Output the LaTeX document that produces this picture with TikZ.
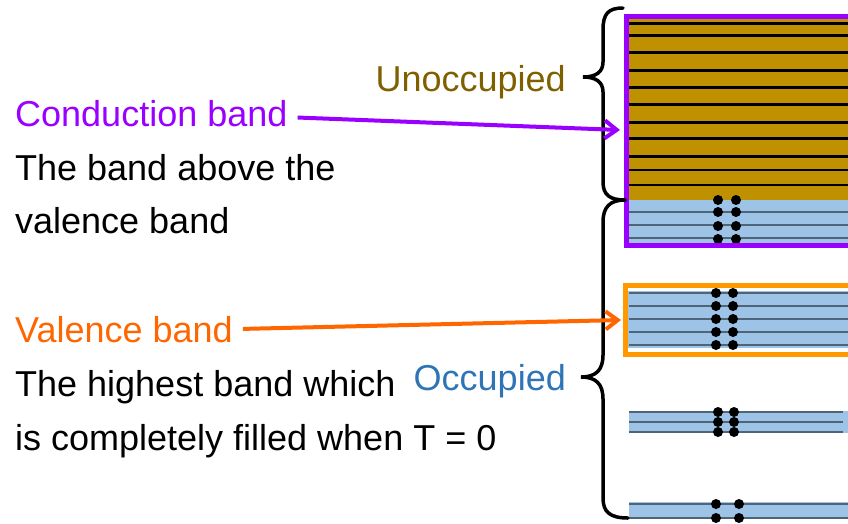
\documentclass[tikz,border=0pt]{standalone}
\usepackage{fontspec}
\setmainfont{Liberation Sans}
\usetikzlibrary{arrows.meta}

\definecolor{cbpurple}{RGB}{153,0,255}
\definecolor{vbframe}{RGB}{255,153,0}
\definecolor{vbtext}{RGB}{255,102,0}
\definecolor{goldfill}{RGB}{191,144,0}
\definecolor{goldtext}{RGB}{127,96,0}
\definecolor{bandblue}{RGB}{157,195,230}
\definecolor{occtext}{RGB}{46,117,182}
\definecolor{levelgray}{RGB}{80,100,120}

\begin{document}
\begin{tikzpicture}[x=1pt,y=-1pt,
    bandtext/.style={font=\fontsize{36}{43}\selectfont, inner sep=0pt, anchor=base west},
    pointer/.style={line width=4pt, -{Straight Barb[length=12pt,width=18pt]}, shorten <=10pt},
    bandbrace/.style={line width=3.5pt, line cap=round},
    fullline/.style={line width=3pt},
    subline/.style={line width=1.3pt, draw=levelgray}]

  \useasboundingbox (0,0) rectangle (848,523);

  % conduction band: empty levels on top, a few filled ones below
  \fill[goldfill] (627,18) rectangle (848,200);
  \fill[bandblue] (627,200) rectangle (848,243);
  \foreach \y in {23,35,52,70,87,104,122,138,156}
    \draw[fullline] (629,\y) -- (848,\y);
  \draw[line width=2pt] (629,170) -- (848,170);
  \draw[line width=1.4pt] (629,185) -- (848,185);
  \foreach \y in {212,225,238}
    \draw[subline] (629,\y) -- (848,\y);
  \foreach \y in {200,212,226,239} {
    \fill (718,\y) circle (5);
    \fill (736,\y) circle (5);
  }
  \draw[cbpurple, line width=5pt] (852,16.5) -- (626,16.5) -- (626,245.5) -- (852,245.5);

  % valence band
  \fill[bandblue] (627,291) rectangle (848,348);
  \foreach \y in {293,306,319,332,345}
    \draw[subline] (629,\y) -- (848,\y);
  \foreach \y in {293,306,319,332,345} {
    \fill (716,\y) circle (5);
    \fill (733,\y) circle (5);
  }
  \draw[vbframe, line width=5pt] (852,285.5) -- (625.5,285.5) -- (625.5,354) -- (852,354);

  % lower bands
  \fill[bandblue] (629,411) rectangle (848,433);
  \foreach \y in {412,422,432}
    \draw[subline] (629,\y) -- (843,\y);
  \foreach \y in {412,422,432} {
    \fill (718,\y) circle (5);
    \fill (734,\y) circle (5);
  }
  \fill[bandblue] (629,502) rectangle (848,519);
  \foreach \y in {504,518}
    \draw[subline] (629,\y) -- (848,\y);
  \foreach \y in {504,518} {
    \fill (716,\y) circle (5);
    \fill (739,\y) circle (5);
  }

  % braces
  \draw[bandbrace] (623,8) .. controls (608,8) and (603,14) .. (603,30)
    -- (603,62) .. controls (603,72) and (596,77) .. (583,77)
    .. controls (596,77) and (603,82) .. (603,92)
    -- (603,182) .. controls (603,195) and (610,200) .. (625,200);
  \draw[bandbrace] (625,200) .. controls (610,200) and (603,207) .. (603,222)
    -- (603,355) .. controls (603,370) and (596,377) .. (581,377)
    .. controls (596,377) and (603,384) .. (603,399)
    -- (603,498) .. controls (603,512) and (610,518) .. (628,518);

  % texts
  \node[bandtext, anchor=base east, text=goldtext] (unocc) at (566,91) {Unoccupied};
  \node[bandtext, anchor=base east, text=occtext] (occ) at (566,390) {Occupied};

  \node[bandtext, text=cbpurple] (cb) at (15,126) {Conduction band};
  \node[bandtext] (cbdesc1) at (15,180) {The band above the};
  \node[bandtext] (cbdesc2) at (15,233) {valence band};

  \node[bandtext, text=vbtext] (vb) at (15,342) {Valence band};
  \node[bandtext] (vbdesc1) at (15,396) {The highest band which};
  \node[bandtext] (vbdesc2) at (15,450) {is completely filled when T = 0};

  % pointers
  \coordinate (cbin) at (620,130);
  \coordinate (vbin) at (621,320);
  \draw[pointer, cbpurple] ([yshift=-4pt]cb.east) -- (cbin);
  \draw[pointer, vbtext] (vb.east) -- (vbin);
\end{tikzpicture}
\end{document}
